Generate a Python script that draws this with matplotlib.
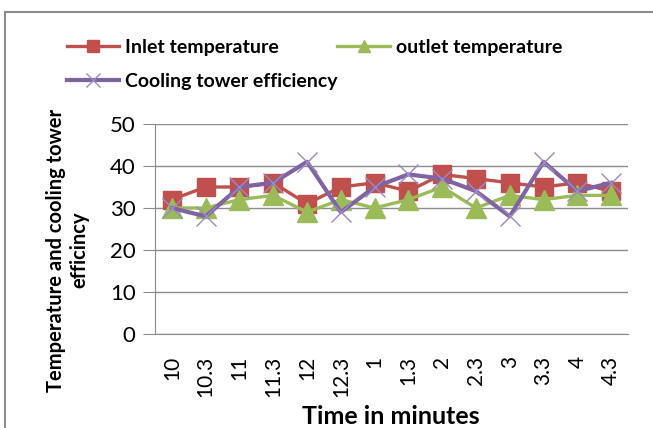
import matplotlib.pyplot as plt
from matplotlib.patches import Rectangle

# -------- Data --------
times = ['10', '10.3', '11', '11.3', '12', '12.3', '1', '1.3', '2', '2.3', '3', '3.3', '4', '4.3']
inlet = [32, 35, 35, 36, 31, 35, 36, 34, 38, 37, 36, 35, 36, 34]
outlet = [30, 30, 32, 33, 29, 32, 30, 32, 35, 30, 33, 32, 33, 33]
efficiency = [30, 28, 35, 36, 41, 29, 35, 38, 37, 34, 28, 41, 34, 36]

plt.rcParams['font.family'] = ['Lato', 'DejaVu Sans']

W, H = 653, 428
fig = plt.figure(figsize=(W / 100, H / 100), dpi=100)

# outer chart border (runs off the right and bottom edges)
fig.patches.append(Rectangle((5 / W, -0.1), 1.2, 1 - 12 / H + 0.1,
                             transform=fig.transFigure, fill=False,
                             edgecolor='#8c8c8c', linewidth=1.5))

ax = fig.add_axes([155 / W, 1 - 334 / H, (628 - 155) / W, (334 - 124) / H])

x = list(range(len(times)))
ax.plot(x, inlet, color='#C0504D', lw=2.4, marker='s', markersize=13,
        label='Inlet temperature')
ax.plot(x, outlet, color='#9BBB59', lw=2.4, marker='^', markersize=14,
        label='outlet temperature')
ax.plot(x, efficiency, color='#8064A2', lw=3, marker='x', markersize=15,
        markeredgecolor='#9C88C2', markeredgewidth=1.0,
        label='Cooling tower efficiency')

ax.set_xlim(-0.5, len(times) - 0.5)
ax.set_ylim(0, 50)
ax.set_yticks(range(0, 51, 10))
ax.set_xticks(x)
ax.set_xticklabels(times, rotation=90, fontsize=15)
ax.tick_params(axis='y', labelsize=16, length=9, color='#8c8c8c', pad=5)
ax.tick_params(axis='x', length=0, pad=16)
ax.grid(axis='y', color='#8c8c8c', linewidth=1)
ax.set_axisbelow(True)
for s in ['top', 'right']:
    ax.spines[s].set_visible(False)
ax.spines['left'].set_color('#8c8c8c')
ax.spines['bottom'].set_color('#8c8c8c')

fig.text(391 / W, 1 - 417 / H, 'Time in minutes', ha='center', va='center',
         fontsize=18, fontweight='bold')
fig.text(68 / W, 1 - 250 / H, 'Temperature and cooling tower\nefficincy',
         ha='center', va='center', rotation=90, fontsize=14.5,
         fontweight='bold', linespacing=1.2)

h, l = ax.get_legend_handles_labels()
order = [0, 2, 1]
fig.legend([h[i] for i in order], [l[i] for i in order], ncol=2,
           loc='upper left', bbox_to_anchor=(49 / W, 1 - 21 / H),
           frameon=False, prop={'weight': 'bold', 'size': 14},
           handlelength=2.7, handletextpad=0.3, columnspacing=0.0,
           labelspacing=0.9, markerscale=0.65)

fig.savefig('out.png', dpi=100)
